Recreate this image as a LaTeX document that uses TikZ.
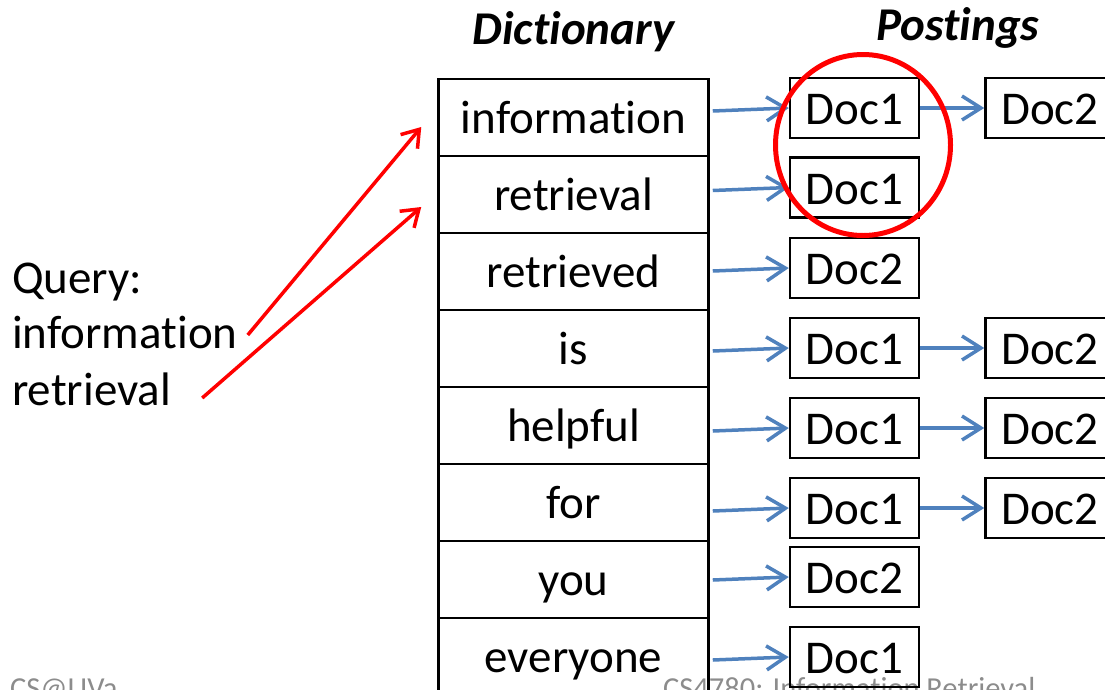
\documentclass[tikz,border=0pt]{standalone}
\usepackage{fontspec}
\setmainfont{Carlito}[Ligatures=NoCommon]
\usetikzlibrary{arrows.meta,positioning,calc}

\definecolor{linkblue}{RGB}{79,129,189}
\definecolor{footgray}{RGB}{140,140,140}

\tikzset{
  word/.style={draw,line width=2.5pt,minimum width=270pt,minimum height=77pt,text height=42pt,text depth=11pt},
  doc/.style={draw,line width=2.5pt,minimum width=129pt,minimum height=60pt,text height=34pt,text depth=1pt},
  link/.style={linkblue,line width=3.5pt,-{Straight Barb[length=19pt,width=24pt]}},
  hit/.style={red,line width=3.5pt,-{Straight Barb[length=16pt,width=22pt]}},
  head/.style={anchor=base,font=\fontsize{47}{56}\selectfont\bfseries\itshape},
  foot/.style={footgray,anchor=base west,font=\fontsize{30.5}{36}\selectfont},
}

\begin{document}
\begin{tikzpicture}[x=1pt,y=-1pt,every node/.append style={inner sep=0pt,font=\fontsize{47}{56}\selectfont}]
\useasboundingbox (0,0) rectangle (1105,689);
% footer lies under the boxes
\node[foot] (uva) at (10,698) {CS@UVa};
\node[foot] (course) at (663,698) {CS4780: Information Retrieval};

\node[head] (dict) at (573.5,44) {Dictionary};
\node[head] (post) at (958,40) {Postings};

% dictionary column
\foreach \w [count=\i] in {information,retrieval,retrieved,is,helpful,for,you,everyone}
  \node[word] (w\i) at (573.5,{40.5+77*\i}) {\w};

% first posting of every term
\foreach \y/\d [count=\i] in {108/Doc1,187.5/Doc1,268/Doc2,348/Doc1,428/Doc1,508/Doc1,577/Doc2,657/Doc1}{
  \node[doc] (d\i) at (854.5,\y) {\d};
  \draw[link] ($(w\i.east |- d\i.west)+(3,3)$) -- (d\i.west);
}
% second posting
\foreach \i in {1,4,5,6}{
  \node[doc,right=64pt of d\i] (e\i) {Doc2};
  \draw[link] (d\i) -- (e\i);
}

\draw[red,line width=5pt] (863,145) ellipse [x radius=87.5,y radius=90.5];

% the query
\node[anchor=base west] (q1) at (12,293) {Query:};
\node[anchor=base west] (q2) at (12,348) {information};
\node[anchor=base west] (q3) at (12,405) {retrieval};
\draw[hit] ($(q2.base east)+(10,-13)$) -- ($(w1.west)+(-16,9.5)$);
\draw[hit] ($(q3.base east)+(31,-7)$) -- ($(w2.west)+(-16,12.5)$);
\end{tikzpicture}
\end{document}
